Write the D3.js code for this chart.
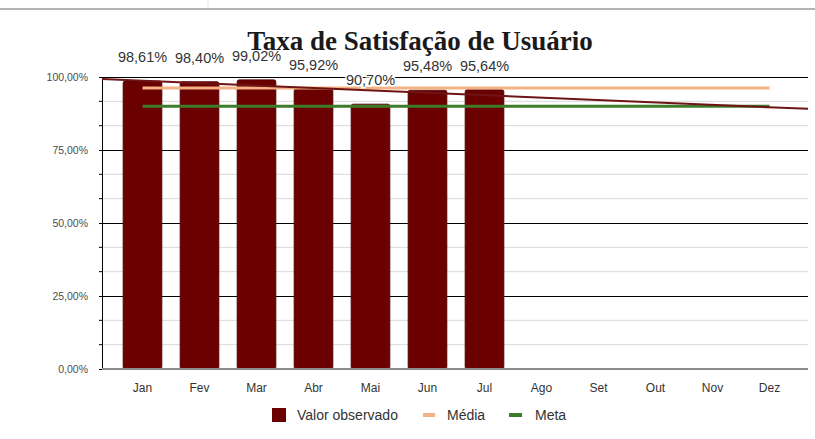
<!DOCTYPE html>
<html>
<head>
<meta charset="utf-8">
<script src="https://cdn.jsdelivr.net/npm/d3@7"></script>
<style>
  body { margin: 0; background: #fff; }
  svg { display: block; }
</style>
</head>
<body>
<div id="chart"></div>
<script>
// data
var months = ["Jan", "Fev", "Mar", "Abr", "Mai", "Jun", "Jul", "Ago", "Set", "Out", "Nov", "Dez"];
var observed = [98.61, 98.40, 99.02, 95.92, 90.70, 95.48, 95.64];
var mediaValue = 96.25;
var metaValue = 90;
var trendEnds = [99.3, 89.1];   // linear trend, read at left and right edge of plot
var majorTicks = [0, 25, 50, 75, 100];
var minorTicks = [8.333, 16.667, 33.333, 41.667, 58.333, 66.667, 83.333, 91.667];

var svgWidth = 815, svgHeight = 439;
var plot = { left: 102, right: 808, top: 77, bottom: 369 };

var svg = d3.select("#chart")
    .append("svg")
    .attr("width", svgWidth)
    .attr("height", svgHeight);

// thin grey line at very top
svg.append("line")
    .attr("x1", 0).attr("x2", svgWidth)
    .attr("y1", 9).attr("y2", 9)
    .attr("stroke", "#b4b4b4")
    .attr("stroke-width", 2);
svg.append("line")
    .attr("x1", 208).attr("x2", 208)
    .attr("y1", 0).attr("y2", 8)
    .attr("stroke", "#e6e6e6");

// scales
var x = d3.scaleBand()
    .domain(months)
    .range([114, 798])
    .paddingInner(0.32)
    .paddingOuter(0.16);

var y = d3.scaleLinear()
    .domain([0, 100])
    .range([plot.bottom, plot.top]);

var xEdge = d3.scaleLinear()
    .domain([0, 1])
    .range([plot.left, plot.right]);

var fmt = function(v) { return v.toFixed(2).replace(".", ",") + "%"; };

// minor gridlines
svg.append("g").selectAll("line")
    .data(minorTicks)
    .enter()
    .append("line")
    .attr("x1", plot.left).attr("x2", plot.right)
    .attr("y1", d => y(d)).attr("y2", d => y(d))
    .attr("stroke", "#d9d9d9")
    .attr("stroke-width", 1);

// major gridlines
svg.append("g").selectAll("line")
    .data(majorTicks.filter(d => d > 0))
    .enter()
    .append("line")
    .attr("x1", plot.left).attr("x2", plot.right)
    .attr("y1", d => Math.round(y(d)) + 0.5).attr("y2", d => Math.round(y(d)) + 0.5)
    .attr("stroke", "#000")
    .attr("stroke-width", 1);

// y axis
var yAxis = svg.append("g")
    .attr("transform", `translate(${plot.left}, 0)`)
    .call(d3.axisLeft(y).tickValues(majorTicks).tickFormat(fmt).tickSize(3).tickPadding(11));
yAxis.select(".domain").attr("stroke", "#000");
yAxis.selectAll(".tick line").attr("stroke", "#000");
yAxis.selectAll("text")
    .attr("font-family", "'Liberation Sans', Arial, sans-serif")
    .attr("font-size", "10.5px")
    .attr("fill", "#4d4d4d");

svg.append("g").selectAll("line")
    .data(minorTicks)
    .enter()
    .append("line")
    .attr("x1", plot.left - 3).attr("x2", plot.left)
    .attr("y1", d => y(d)).attr("y2", d => y(d))
    .attr("stroke", "#000");

// bars
svg.append("g").selectAll("rect")
    .data(observed)
    .enter()
    .append("rect")
    .attr("x", (d, i) => x(months[i]))
    .attr("y", d => y(d))
    .attr("width", x.bandwidth())
    .attr("height", d => y(0) - y(d))
    .attr("rx", 2)
    .attr("fill", "#6b0000")
    .attr("stroke", "#4d0000")
    .attr("stroke-width", 0.8);

// x axis
svg.append("line")
    .attr("x1", plot.left).attr("x2", plot.right)
    .attr("y1", y(0)).attr("y2", y(0))
    .attr("stroke", "#8c8c8c")
    .attr("stroke-width", 2);

var xAxis = svg.append("g")
    .attr("transform", `translate(0, ${y(0)})`)
    .call(d3.axisBottom(x).tickSize(0).tickPadding(14));
xAxis.select(".domain").remove();
xAxis.selectAll("text")
    .attr("font-family", "'Liberation Sans', Arial, sans-serif")
    .attr("font-size", "12px")
    .attr("fill", "#333");

// média and meta lines
var first = x(months[0]) + x.bandwidth() / 2;
var last = x(months[months.length - 1]) + x.bandwidth() / 2;

svg.append("line")
    .attr("x1", first).attr("x2", last)
    .attr("y1", y(mediaValue)).attr("y2", y(mediaValue))
    .attr("stroke", "#f4b183")
    .attr("stroke-width", 3);

svg.append("line")
    .attr("x1", first).attr("x2", last)
    .attr("y1", y(metaValue)).attr("y2", y(metaValue))
    .attr("stroke", "#3c7d2a")
    .attr("stroke-width", 3);

// trend line
svg.append("line")
    .attr("x1", xEdge(0)).attr("x2", xEdge(1))
    .attr("y1", y(trendEnds[0])).attr("y2", y(trendEnds[1]))
    .attr("stroke", "#6e1414")
    .attr("stroke-width", 2);

// data labels
svg.append("g").selectAll("text")
    .data(observed)
    .enter()
    .append("text")
    .text(d => fmt(d))
    .attr("x", (d, i) => x(months[i]) + x.bandwidth() / 2)
    .attr("y", d => y(d) - 19)
    .attr("text-anchor", "middle")
    .attr("font-family", "'Liberation Sans', Arial, sans-serif")
    .attr("font-size", "14.5px")
    .attr("fill", "#333")
    .attr("stroke", "#fff")
    .attr("stroke-width", 3)
    .attr("paint-order", "stroke");

// title
svg.append("text")
    .attr("x", 420)
    .attr("y", 50)
    .attr("text-anchor", "middle")
    .attr("font-family", "'Liberation Serif', 'Times New Roman', serif")
    .attr("font-weight", "bold")
    .attr("font-size", "27px")
    .attr("fill", "#1a1a1a")
    .text("Taxa de Satisfação de Usuário");

// legend
var legend = svg.append("g")
    .attr("font-family", "'Liberation Sans', Arial, sans-serif")
    .attr("font-size", "14px")
    .attr("fill", "#333");

legend.append("rect")
    .attr("x", 272).attr("y", 408)
    .attr("width", 14).attr("height", 14)
    .attr("fill", "#6b0000");
legend.append("text").attr("x", 297).attr("y", 420).text("Valor observado");

legend.append("line")
    .attr("x1", 423).attr("x2", 435)
    .attr("y1", 415).attr("y2", 415)
    .attr("stroke", "#f4b183").attr("stroke-width", 4);
legend.append("text").attr("x", 447).attr("y", 420).text("Média");

legend.append("line")
    .attr("x1", 509).attr("x2", 522)
    .attr("y1", 415).attr("y2", 415)
    .attr("stroke", "#3c7d2a").attr("stroke-width", 4);
legend.append("text").attr("x", 535).attr("y", 420).text("Meta");
</script>
</body>
</html>
